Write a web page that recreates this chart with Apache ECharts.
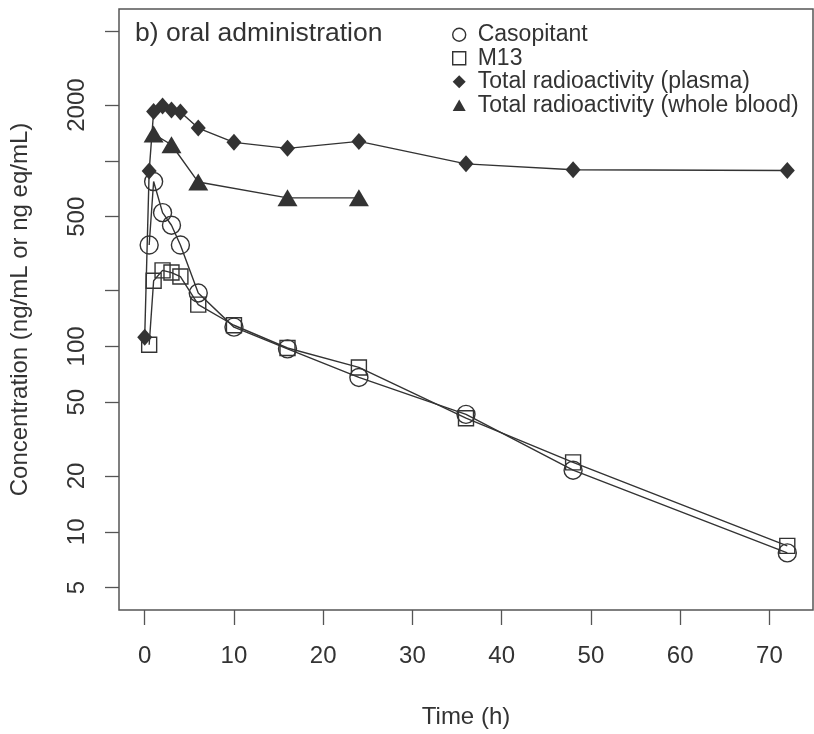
<!DOCTYPE html>
<html>
<head>
<meta charset="utf-8">
<script src="https://cdn.jsdelivr.net/npm/echarts@6/dist/echarts.min.js"></script>
<style>
  html, body { margin: 0; padding: 0; background: #fff; }
  #chart { width: 814px; height: 734px; }
</style>
</head>
<body>
<div id="chart"></div>
<script>
// Sampling times (h) and concentrations (ng/mL or ng eq/mL)
const casopitantTime = [0.5, 1, 2, 3, 4, 6, 10, 16, 24, 36, 48, 72];
const casopitantConc = [352, 774, 526, 450, 352, 194, 127, 97, 68, 43, 21.5, 7.7];

const m13Time = [0.5, 1, 2, 3, 4, 6, 10, 16, 24, 36, 48, 72];
const m13Conc = [102, 226, 257, 250, 238, 168, 130, 98, 77, 41, 23.7, 8.4];

const plasmaTime = [0, 0.5, 1, 2, 3, 4, 6, 10, 16, 24, 36, 48, 72];
const plasmaConc = [112, 881, 1846, 1977, 1884, 1836, 1503, 1259, 1169, 1274, 964, 896, 888];

const bloodTime = [1, 3, 6, 16, 24];
const bloodConc = [1396, 1222, 769, 632, 632];

// Axis ticks
const xTicks = [0, 10, 20, 30, 40, 50, 60, 70];
const yTicks = [5, 10, 20, 50, 100, 200, 500, 1000, 2000, 5000];
const yTickLabels = [5, 10, 20, 50, 100, 500, 2000];

const seriesNames = [
  'Casopitant',
  'M13',
  'Total radioactivity (plasma)',
  'Total radioactivity (whole blood)'
];

const ink = '#333333';
const frame = '#555555';
const font = 'Liberation Sans, Arial, Helvetica, sans-serif';

function pairs(xs, ys) {
  return xs.map((x, i) => [x, ys[i]]);
}

const chart = echarts.init(document.getElementById('chart'), null, { renderer: 'canvas' });

chart.setOption({
  backgroundColor: '#ffffff',
  animation: false,
  textStyle: { fontFamily: font, color: ink },
  title: {
    text: 'b) oral administration',
    left: 130,
    top: 15,
    textStyle: { fontFamily: font, fontSize: 26.5, fontWeight: 'normal', color: ink }
  },
  legend: {
    orient: 'vertical',
    left: 447,
    top: 18,
    itemWidth: 13,
    itemHeight: 13,
    itemGap: 0,
    selectedMode: false,
    textStyle: {
      fontFamily: font, fontSize: 23, color: ink, lineHeight: 23.5,
      padding: [0, 0, 0, 7]
    },
    data: [
      { name: seriesNames[0], icon: 'circle',
        itemStyle: { color: 'rgba(0,0,0,0)', borderColor: ink, borderWidth: 1.4 } },
      { name: seriesNames[1], icon: 'path://M0,0 L10,0 L10,10 L0,10 Z',
        itemStyle: { color: 'rgba(0,0,0,0)', borderColor: ink, borderWidth: 1.4 } },
      { name: seriesNames[2], icon: 'path://M5,0 L10,5 L5,10 L0,5 Z',
        itemStyle: { color: ink, borderWidth: 0 } },
      { name: seriesNames[3], icon: 'path://M5,0 L10,8.7 L0,8.7 Z',
        itemStyle: { color: ink, borderWidth: 0 } }
    ]
  },
  grid: {
    left: 117,
    right: 1,
    top: 9,
    bottom: 120,
    show: true,
    borderColor: frame,
    borderWidth: 1.5,
    containLabel: false
  },
  xAxis: {
    type: 'value',
    min: -2.88,
    max: 74.88,
    name: 'Time (h)',
    nameLocation: 'middle',
    nameGap: 95,
    nameTextStyle: { fontFamily: font, fontSize: 24, color: ink },
    axisLine: { show: false, onZero: false },
    splitLine: { show: false },
    axisTick: {
      show: true, inside: false, length: 15,
      customValues: xTicks,
      lineStyle: { color: frame, width: 1.3 }
    },
    axisLabel: {
      customValues: xTicks,
      margin: 34,
      fontFamily: font, fontSize: 24, color: ink
    }
  },
  yAxis: {
    type: 'log',
    logBase: 10,
    min: 3.79,
    max: 6592,
    name: 'Concentration (ng/mL or ng eq/mL)',
    nameLocation: 'middle',
    nameRotate: 90,
    nameGap: 87,
    nameTextStyle: { fontFamily: font, fontSize: 24, color: ink },
    axisLine: { show: false, onZero: false },
    splitLine: { show: false },
    axisTick: {
      show: true, inside: false, length: 14,
      customValues: yTicks,
      lineStyle: { color: frame, width: 1.3 }
    },
    axisLabel: {
      customValues: yTickLabels,
      rotate: 90,
      margin: 30,
      fontFamily: font, fontSize: 24, color: ink,
      formatter: v => String(Math.round(v))
    }
  },
  series: [
    {
      name: seriesNames[0],
      type: 'line',
      data: pairs(casopitantTime, casopitantConc),
      symbol: 'circle',
      symbolSize: 18,
      showAllSymbol: true,
      itemStyle: { color: 'rgba(0,0,0,0)', borderColor: ink, borderWidth: 1.4 },
      lineStyle: { color: ink, width: 1.4 },
      emphasis: { disabled: true }
    },
    {
      name: seriesNames[1],
      type: 'line',
      data: pairs(m13Time, m13Conc),
      symbol: 'rect',
      symbolSize: 15,
      showAllSymbol: true,
      itemStyle: { color: 'rgba(0,0,0,0)', borderColor: ink, borderWidth: 1.4 },
      lineStyle: { color: ink, width: 1.4 },
      emphasis: { disabled: true }
    },
    {
      name: seriesNames[2],
      type: 'line',
      data: pairs(plasmaTime, plasmaConc),
      symbol: 'diamond',
      symbolSize: [15, 17],
      showAllSymbol: true,
      itemStyle: { color: ink, borderWidth: 0 },
      lineStyle: { color: ink, width: 1.4 },
      emphasis: { disabled: true }
    },
    {
      name: seriesNames[3],
      type: 'line',
      data: pairs(bloodTime, bloodConc),
      symbol: 'triangle',
      symbolSize: [20, 17],
      showAllSymbol: true,
      itemStyle: { color: ink, borderWidth: 0 },
      lineStyle: { color: ink, width: 1.4 },
      emphasis: { disabled: true }
    }
  ]
});
</script>
</body>
</html>
